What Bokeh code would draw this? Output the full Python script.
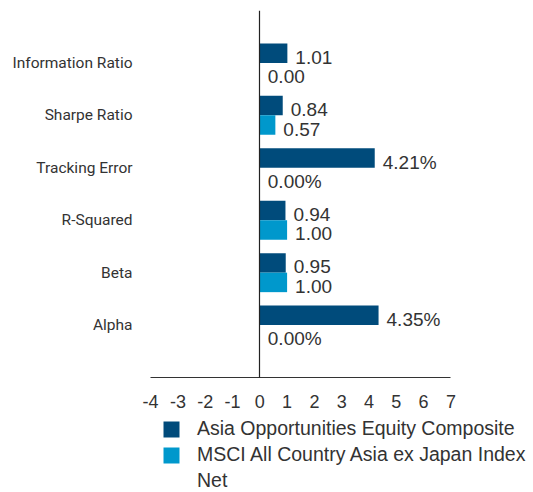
from bokeh.plotting import figure
from bokeh.models import (ColumnDataSource, Legend, LegendItem, FixedTicker, Range1d,
                          LinearAxis)
from bokeh.core.properties import value
from bokeh.embed import file_html
from bokeh.resources import INLINE

categories = ["Information Ratio", "Sharpe Ratio", "Tracking Error", "R-Squared", "Beta", "Alpha"]
composite = [1.01, 0.84, 4.21, 0.94, 0.95, 4.35]
benchmark = [0.00, 0.57, 0.00, 1.00, 1.00, 0.00]
suffix = ["", "", "%", "", "", "%"]
series_names = ["Asia Opportunities Equity Composite", "MSCI All Country Asia ex Japan Index", "Net"]
x_ticks = [-4, -3, -2, -1, 0, 1, 2, 3, 4, 5, 6, 7]

NAVY = "#004b7b"
BLUE = "#0098cc"
TEXT = "#333333"

n = len(categories)
ypos = [n - i for i in range(n)]
half = 0.186

src = ColumnDataSource(dict(
    y_c=[y + half for y in ypos],
    y_b=[y - half for y in ypos],
    comp=composite,
    bench=benchmark,
    lab_c=[f"{v:.2f}{s}" for v, s in zip(composite, suffix)],
    lab_b=[f"{v:.2f}{s}" for v, s in zip(benchmark, suffix)],
))

# layout (pixels): frame extends right/below the axes so the legend fits inside it
W, H = 533, 492
LEFT, TOP = 138, 10
FRAME_W, FRAME_H = W - LEFT, H - TOP
ZERO_X = 259.3       # pixel position of x = 0
X_PX = 27.3          # pixels per x unit
Y_PX = 52.43         # pixels per category slot
y_hi = n + 1
x_lo = (LEFT - ZERO_X) / X_PX
x_hi = x_lo + FRAME_W / X_PX
y_lo = y_hi - FRAME_H / Y_PX

p = figure(frame_width=FRAME_W, frame_height=FRAME_H, output_backend="svg", toolbar_location=None,
           x_range=Range1d(x_lo, x_hi), y_range=Range1d(y_lo, y_hi),
           min_border_left=LEFT, min_border_right=0, min_border_top=TOP, min_border_bottom=0)
p.outline_line_color = None
p.xgrid.visible = False
p.ygrid.visible = False

r1 = p.hbar(y="y_c", left=0, right="comp", height=2 * half, source=src, fill_color=NAVY, line_color=None)
r2 = p.hbar(y="y_b", left=0, right="bench", height=2 * half, source=src, fill_color=BLUE, line_color=None)

for ycol, xcol, lcol in [("y_c", "comp", "lab_c"), ("y_b", "bench", "lab_b")]:
    p.text(x=xcol, y=ycol, text=lcol, source=src, x_offset=8, y_offset=4,
           text_align="left", text_baseline="middle",
           text_font=value("Liberation Sans"), text_font_size="19px", text_color=TEXT)

xa = p.xaxis[0]
xa.fixed_location = 0
xa.bounds = (x_ticks[0], x_ticks[-1])
xa.ticker = FixedTicker(ticks=x_ticks)
xa.major_label_overrides = {t: str(t) for t in x_ticks}
xa.major_tick_line_color = None
xa.minor_tick_line_color = None
xa.axis_line_color = "#333333"
xa.axis_line_width = 1.2
xa.major_label_text_font = "Liberation Sans"
xa.major_label_text_font_size = "18px"
xa.major_label_text_color = TEXT
xa.major_label_standoff = 11

ya = p.yaxis[0]
ya.ticker = FixedTicker(ticks=ypos)
ya.major_label_overrides = {y: c for y, c in zip(ypos, categories)}
ya.major_tick_line_color = None
ya.minor_tick_line_color = None
ya.axis_line_color = None
ya.major_label_text_font = "Roboto"
ya.major_label_text_font_size = "15.5px"
ya.major_label_text_color = TEXT
ya.major_label_standoff = 0

# vertical zero line as an axis crossing at x = 0
zero_axis = LinearAxis(fixed_location=0, bounds=(0, y_hi), ticker=FixedTicker(ticks=[]),
                       axis_line_color="#222222", axis_line_width=1.2,
                       major_tick_line_color=None, minor_tick_line_color=None)
p.add_layout(zero_axis, "left")

legend = Legend(items=[LegendItem(label=series_names[0], renderers=[r1]),
                       LegendItem(label=series_names[1], renderers=[r2]),
                       LegendItem(label=series_names[2], renderers=[])],
                location=(23, 0), orientation="vertical",
                glyph_width=20, glyph_height=20, label_height=20, label_standoff=16, spacing=3,
                padding=0, margin=0, border_line_color=None, background_fill_alpha=0,
                label_text_font="Liberation Sans", label_text_font_size="19.5px",
                label_text_color=TEXT)
p.add_layout(legend)

open("out.html", "w").write(file_html(p, INLINE))
